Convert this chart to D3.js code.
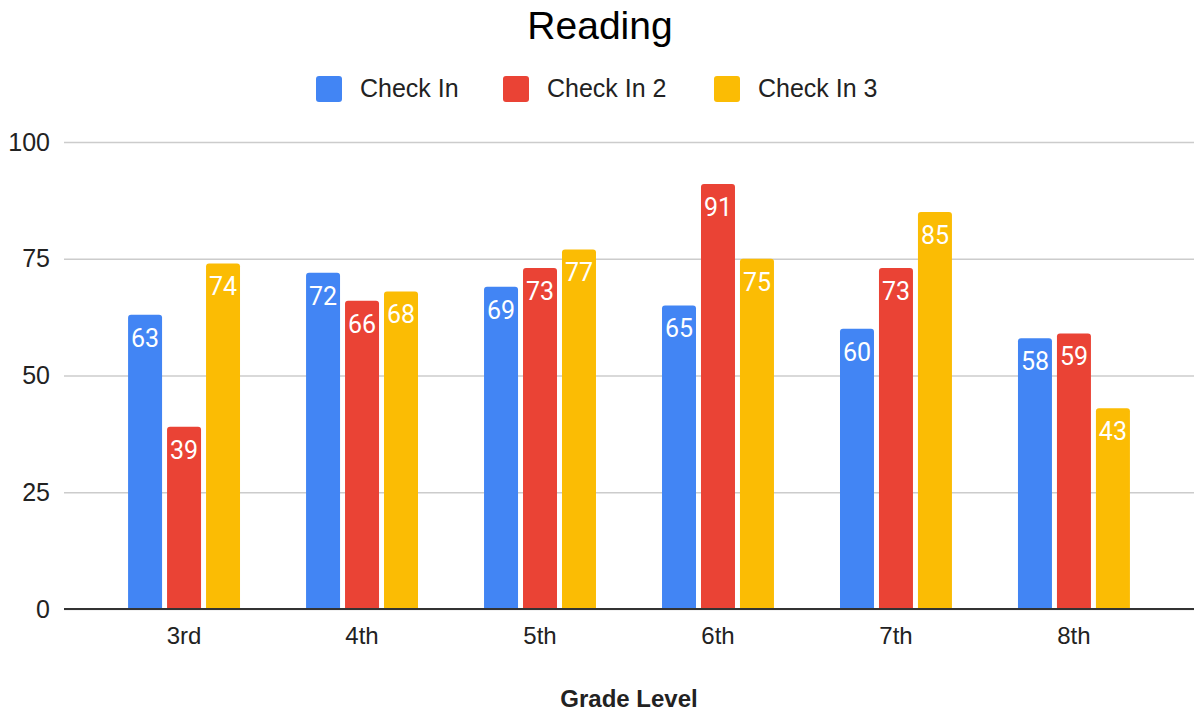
<!DOCTYPE html>
<html>
<head>
<meta charset="utf-8">
<script src="https://cdn.jsdelivr.net/npm/d3@7"></script>
<style>
  body { margin: 0; background: #fff; }
  svg { display: block; }
</style>
</head>
<body>
<div id="chart"></div>
<script>
// Data
const grades = ['3rd', '4th', '5th', '6th', '7th', '8th']
const seriesNames = ['Check In', 'Check In 2', 'Check In 3']
const checkIn1 = [63, 72, 69, 65, 60, 58]
const checkIn2 = [39, 66, 73, 91, 73, 59]
const checkIn3 = [74, 68, 77, 75, 85, 43]
const yTicks = [0, 25, 50, 75, 100]
const colors = ['#4285F4', '#EA4335', '#FBBC04']

const width = 1198
const height = 713
const plot = { left: 64, right: 1194, top: 142, bottom: 609 }
const sansFont = "'Liberation Sans', Arial, sans-serif"

const seriesValues = [checkIn1, checkIn2, checkIn3]
const rows = grades.map((g, i) => ({
  grade: g,
  values: seriesValues.map((vals, s) => ({ key: seriesNames[s], value: vals[i], idx: s }))
}))

const svg = d3.select('#chart')
  .append('svg')
    .attr('width', width)
    .attr('height', height)

// Scales
const x0 = d3.scaleBand()
  .domain(grades)
  .range([plot.left, plot.right])
  .paddingInner(0.371)
  .paddingOuter(0.36)

const x1 = d3.scaleBand()
  .domain(seriesNames)
  .range([0, x0.bandwidth()])
  .paddingInner(0.128)

const y = d3.scaleLinear()
  .domain([0, 100])
  .range([plot.bottom, plot.top])

// Title
svg.append('text')
  .attr('x', 600)
  .attr('y', 39)
  .attr('text-anchor', 'middle')
  .attr('font-family', sansFont)
  .attr('font-size', 39)
  .attr('fill', '#000')
  .text('Reading')

// Legend
const legendX = [316, 503, 714]
const legend = svg.append('g')
seriesNames.forEach((name, i) => {
  const g = legend.append('g').attr('transform', `translate(${legendX[i]},76)`)
  g.append('rect')
    .attr('width', 26)
    .attr('height', 26)
    .attr('rx', 3)
    .attr('fill', colors[i])
  g.append('text')
    .attr('x', 44)
    .attr('y', 21)
    .attr('font-family', sansFont)
    .attr('font-size', 25)
    .attr('fill', '#222')
    .text(name)
})

// Grid + y axis labels
const yAxis = d3.axisLeft(y)
  .tickValues(yTicks)
  .tickSize(-(plot.right - plot.left))
  .tickPadding(14)

svg.append('g')
  .attr('transform', `translate(${plot.left},0)`)
  .call(yAxis)
  .call(g => g.select('.domain').remove())
  .call(g => g.selectAll('.tick line').attr('stroke', '#ccc').attr('stroke-width', 1.5))
  .call(g => g.selectAll('.tick text')
    .attr('font-family', sansFont)
    .attr('font-size', 25)
    .attr('fill', '#222'))

// Bars with rounded top corners
const barPath = (bx, by, bw, bh, r) => {
  r = Math.min(r, bh)
  return `M${bx},${by + bh}V${by + r}Q${bx},${by} ${bx + r},${by}` +
    `H${bx + bw - r}Q${bx + bw},${by} ${bx + bw},${by + r}V${by + bh}Z`
}

const groups = svg.selectAll('.grade')
  .data(rows)
  .enter()
  .append('g')
    .attr('class', 'grade')
    .attr('transform', d => `translate(${x0(d.grade)},0)`)

groups.selectAll('.bar')
  .data(d => d.values)
  .enter()
  .append('path')
    .attr('class', 'bar')
    .attr('d', d => barPath(x1(d.key), y(d.value), x1.bandwidth(), y(0) - y(d.value), 3))
    .attr('fill', d => colors[d.idx])

groups.selectAll('.label')
  .data(d => d.values)
  .enter()
  .append('text')
    .attr('class', 'label')
    .attr('x', d => x1(d.key) + x1.bandwidth() / 2)
    .attr('y', d => y(d.value) + 32)
    .attr('text-anchor', 'middle')
    .attr('font-family', 'Roboto, sans-serif')
    .attr('font-size', 25)
    .attr('fill', '#fff')
    .text(d => d.value)

// Baseline
svg.append('line')
  .attr('x1', plot.left)
  .attr('x2', plot.right)
  .attr('y1', y(0))
  .attr('y2', y(0))
  .attr('stroke', '#333')
  .attr('stroke-width', 2)

// X axis labels
const xAxis = d3.axisBottom(x0).tickSize(0).tickPadding(18)
svg.append('g')
  .attr('transform', `translate(0,${plot.bottom})`)
  .call(xAxis)
  .call(g => g.select('.domain').remove())
  .call(g => g.selectAll('.tick text')
    .attr('font-family', sansFont)
    .attr('font-size', 24)
    .attr('fill', '#222'))

// X axis title
svg.append('text')
  .attr('x', (plot.left + plot.right) / 2)
  .attr('y', 707)
  .attr('text-anchor', 'middle')
  .attr('font-family', sansFont)
  .attr('font-weight', 'bold')
  .attr('font-size', 24)
  .attr('fill', '#222')
  .text('Grade Level')
</script>
</body>
</html>
